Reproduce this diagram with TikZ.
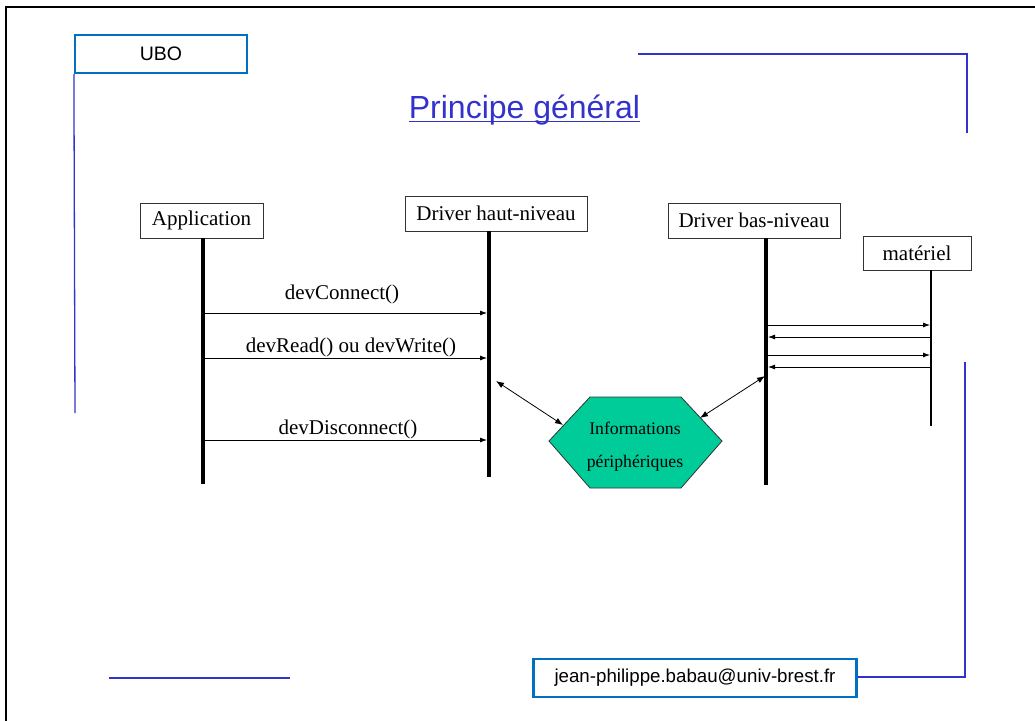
\documentclass[tikz,border=0pt]{standalone}
\usepackage{fontspec}
\setmainfont{Liberation Serif}
\newfontfamily\sansf{Liberation Sans}
\usetikzlibrary{arrows.meta}
\definecolor{uboblue}{RGB}{0,112,192}
\definecolor{lineblue}{RGB}{51,51,204}
\definecolor{hexgreen}{RGB}{0,204,153}
\tikzset{
  lifebox/.style={draw=black!80, line width=0.8pt, fill=white, font=\fontsize{21}{21}\selectfont, minimum height=35pt, inner xsep=2pt},
  frameline/.style={draw=lineblue, line width=1.3pt},
  bluebox/.style={draw=uboblue, line width=2.2pt, inner sep=0pt},
  lifeline/.style={line width=3.5pt},
  msg/.style={line width=0.8pt, -{Latex[length=7pt,width=5pt]}},
  msglabel/.style={font=\fontsize{21}{21}\selectfont},
  dbl/.style={line width=0.8pt, {Latex[length=8pt,width=6pt]}-{Latex[length=8pt,width=6pt]}}
}
\begin{document}
\begin{tikzpicture}[x=1pt,y=-1pt]
\useasboundingbox (0,0) rectangle (1035,720);
% outer frame
\draw[line width=2pt] (1045,7) -- (6,7) -- (6,730);
% decorative blue lines
\node[bluebox, minimum width=172pt, minimum height=38pt, font=\sansf\fontsize{19.5}{19.5}\selectfont] (ubo) at (161,54) {UBO};
\coordinate (l1) at (75,413);
\draw[frameline] (ubo.south west) -- (l1);
\coordinate (t1) at (638,54);
\coordinate (t2) at (967,54);
\coordinate (t3) at (967,133);
\draw[frameline] (t1) -- (t2) -- (t3);
\node[bluebox, minimum width=323pt, minimum height=38pt, font=\sansf\fontsize{18.7}{18.7}\selectfont] (mail) at (695,678) {jean-philippe.babau@univ-brest.fr};
\coordinate (r1) at (965,362);
\coordinate (r2) at (965,677);
\draw[frameline] (r1) -- (r2) -- (mail.east |- r2);
\coordinate (b1) at (109,678);
\coordinate (b2) at (290,678);
\draw[frameline] (b1) -- (b2);
% title
\node[font=\sansf\fontsize{32}{32}\selectfont, text=lineblue, inner sep=0pt, anchor=base] (title) at (524.5,118) {Principe général};
\draw[draw=lineblue, line width=1.6pt] ([yshift=-3.5pt]title.base west) -- ([yshift=-3.5pt]title.base east);
% lifeline boxes
\node[lifebox, minimum width=123pt] (app) at (201.5,220.5) {Application};
\node[lifebox, minimum width=182pt] (dhn) at (496,213.5) {Driver haut-niveau};
\node[lifebox, minimum width=172pt] (dbn) at (754,220.5) {Driver bas-niveau};
\node[lifebox, minimum width=108pt, minimum height=34pt] (mat) at (917,253) {matériel};
% lifelines
\coordinate (appE) at (203,484);
\coordinate (dhnE) at (489,477);
\coordinate (dbnE) at (766,485);
\coordinate (matE) at (931,426);
\draw[lifeline] (app.south -| appE) -- (appE);
\draw[lifeline] (dhn.south -| dhnE) -- (dhnE);
\draw[lifeline] (dbn.south -| dbnE) -- (dbnE);
\draw[line width=2pt] (mat.south -| matE) -- (matE);
% messages
\coordinate (m1a) at (205,313); \coordinate (m1b) at (487,313);
\draw[msg] (m1a) -- (m1b);
\node[msglabel] (m1l) at (342,294) {devConnect()};
\coordinate (m2a) at (205,358); \coordinate (m2b) at (487,358);
\draw[msg] (m2a) -- (m2b);
\node[msglabel] (m2l) at (351,347) {devRead() ou devWrite()};
\coordinate (m3a) at (205,440); \coordinate (m3b) at (487,440);
\draw[msg] (m3a) -- (m3b);
\node[msglabel] (m3l) at (348,429) {devDisconnect()};
% hardware exchanges
\coordinate (h1a) at (768,325); \coordinate (h1b) at (930,325);
\coordinate (h2a) at (768,337); \coordinate (h2b) at (930,337);
\coordinate (h3a) at (768,355); \coordinate (h3b) at (930,355);
\coordinate (h4a) at (768,367); \coordinate (h4b) at (930,367);
\draw[msg] (h1a) -- (h1b);
\draw[msg] (h2b) -- (h2a);
\draw[msg] (h3a) -- (h3b);
\draw[msg] (h4b) -- (h4a);
% hexagon
\coordinate (x1) at (549,441);
\coordinate (x2) at (590,397);
\coordinate (x3) at (681,397);
\coordinate (x4) at (722,441);
\coordinate (x5) at (681,488);
\coordinate (x6) at (590,488);
\draw[fill=hexgreen, draw=black!80, line width=0.8pt] (x1) -- (x2) -- (x3) -- (x4) -- (x5) -- (x6) -- cycle;
\node[font=\fontsize{17.7}{17.7}\selectfont] (info1) at (635,428) {Informations};
\node[font=\fontsize{17.7}{17.7}\selectfont] (info2) at (635,463) {périphériques};
\coordinate (d1a) at (496,381); \coordinate (d1b) at (563,425);
\coordinate (d2a) at (765,376); \coordinate (d2b) at (700,418);
\draw[dbl] (d1a) -- (d1b);
\draw[dbl] (d2a) -- (d2b);
\end{tikzpicture}
\end{document}
